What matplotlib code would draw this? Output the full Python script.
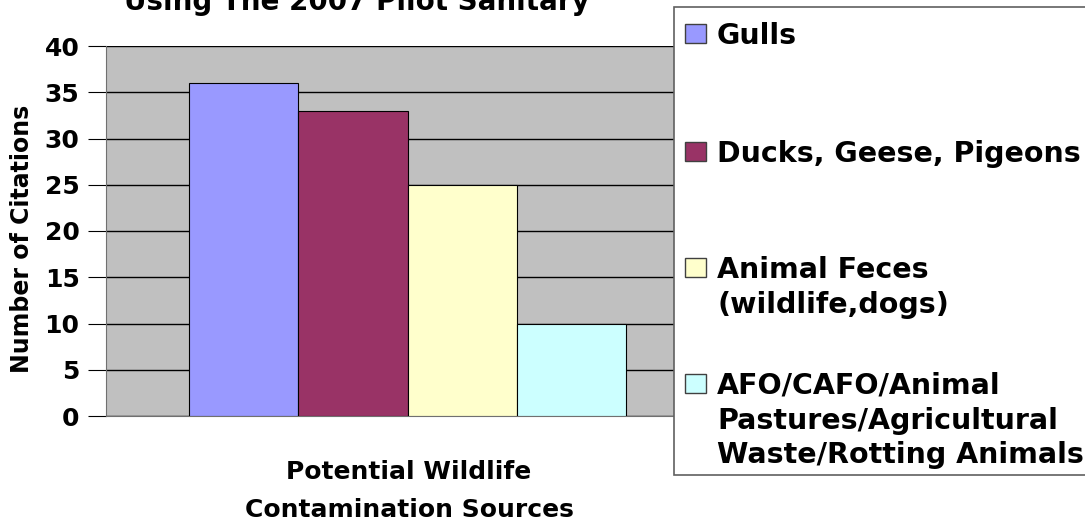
import matplotlib.pyplot as plt
from matplotlib.patches import Rectangle

plt.rcParams['font.family'] = ['DejaVu Sans']
plt.rcParams['font.weight'] = 'bold'

sources = ["Gulls", "Ducks, Geese, Pigeons", "Animal Feces\n(wildlife,dogs)",
           "AFO/CAFO/Animal\nPastures/Agricultural\nWaste/Rotting Animals"]
citations = [36, 33, 25, 10]
colors = ["#9999FF", "#993366", "#FFFFCC", "#CCFFFF"]
yticks = [0, 5, 10, 15, 20, 25, 30, 35, 40]

W, H = 1085.0, 523.0
fig = plt.figure(figsize=(10.85, 5.23), dpi=100)
ax = fig.add_axes([106 / W, 1 - 416 / H, (709 - 106) / W, (416 - 46) / H])
ax.set_facecolor("#C0C0C0")
ax.set_axisbelow(True)
ax.yaxis.grid(True, color="black", linewidth=1.0)

x = list(range(len(citations)))
ax.bar(x, citations, width=1.0, color=colors, edgecolor="black", linewidth=0.8, zorder=3)

ax.set_xlim(-1.26, 4.26)
ax.set_ylim(0, 40)
ax.set_yticks(yticks)
ax.set_yticklabels([str(t) for t in yticks], fontsize=18, fontweight='bold')
ax.tick_params(axis='y', length=13, width=0.8, direction='out', pad=6)
ax.set_xticks([])
for s in ['top', 'right']:
    ax.spines[s].set_visible(False)
ax.spines['left'].set_color("#707070")
ax.spines['bottom'].set_color("#707070")

fig.text(22 / W, 1 - 239 / H, "Number of Citations", rotation=90, ha='center', va='center',
         fontsize=17, fontweight='bold')
# first line baseline ~479, second ~515
fig.text(409 / W, 1 - 460 / H, "Potential Wildlife\nContamination Sources", ha='center',
         va='top', fontsize=18, fontweight='bold', linespacing=1.75)

fig.text(357 / W, 1 - 10 / H, "Using The 2007 Pilot Sanitary", ha='center', va='baseline',
         fontsize=20, fontweight='bold')

# legend box drawn by hand so the rows keep even spacing
fig.patches.append(Rectangle((674 / W, 1 - 475 / H), (1090 - 674) / W, (475 - 7) / H,
                             transform=fig.transFigure, facecolor="white",
                             edgecolor="#606060", linewidth=1.2, zorder=5))
row_base = [43, 161, 277, 393]
for c, lab, rb in zip(colors, sources, row_base):
    fig.patches.append(Rectangle((685 / W, 1 - rb / H), 21 / W, 19 / H,
                                 transform=fig.transFigure, facecolor=c,
                                 edgecolor="#404040", linewidth=1, zorder=6))
    fig.text(717 / W, 1 - (rb - 21) / H, lab, ha='left', va='top', fontsize=20.5,
             fontweight='bold', linespacing=1.3, zorder=7)

fig.savefig("out.png", dpi=100)
